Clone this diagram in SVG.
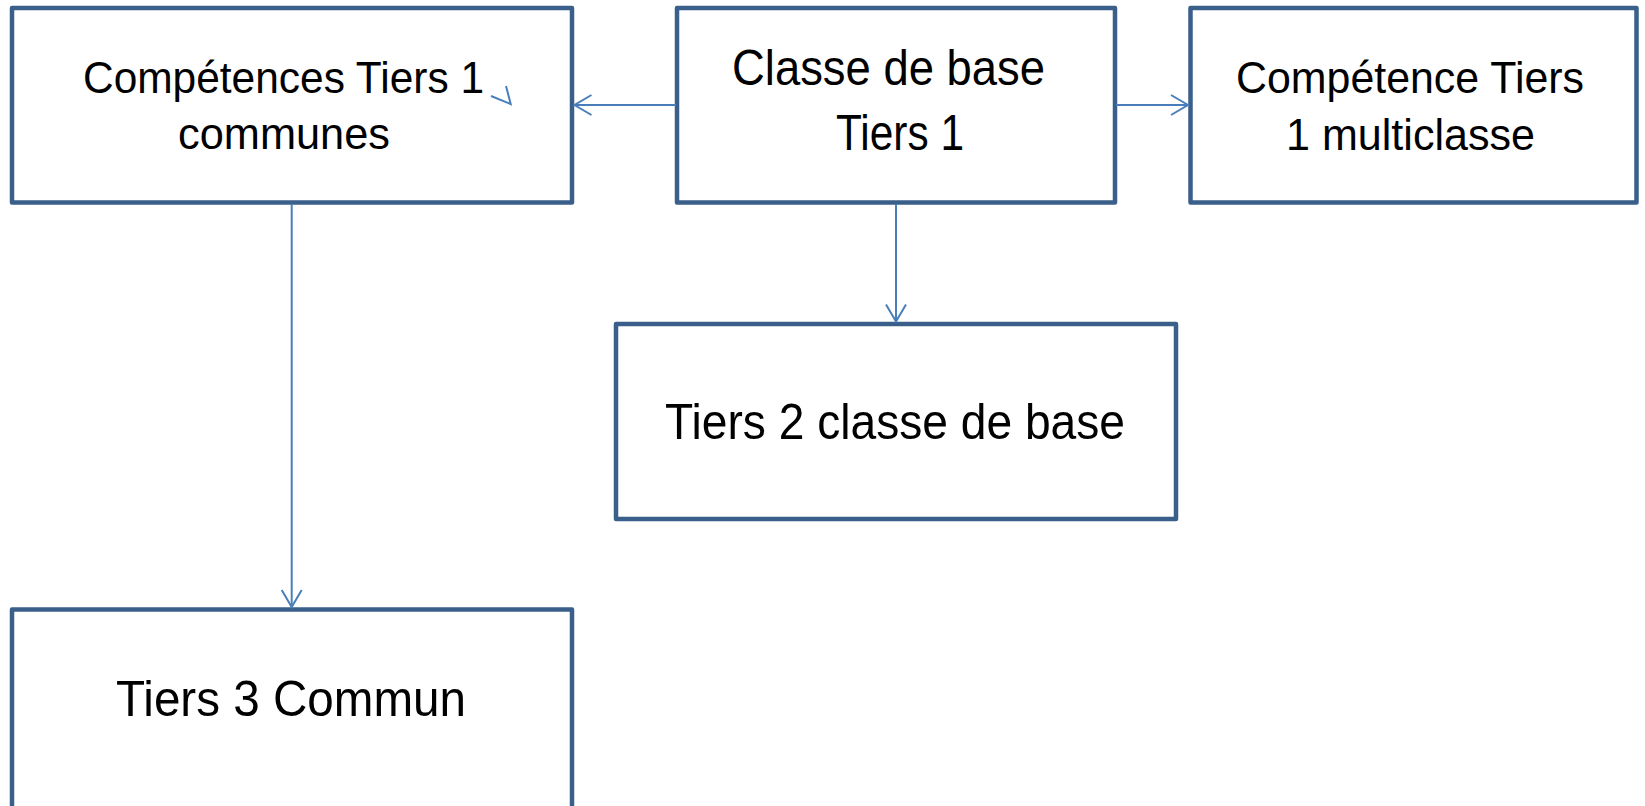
<svg xmlns="http://www.w3.org/2000/svg" width="1645" height="806" viewBox="0 0 1645 806">
<style>
  .box { fill: #ffffff; stroke: #3A5F8B; stroke-width: 4.5; stroke-linejoin: round; }
  .lbl { font-family: "Liberation Sans", Arial, sans-serif; fill: #000000; }
  .s1 { font-size: 44.5px; }
  .s2 { font-size: 50px; }
  .conn { fill: none; stroke: #4A7EBB; stroke-width: 2; }
</style>
<defs>
  <marker id="arr" markerUnits="userSpaceOnUse" markerWidth="24" markerHeight="24" viewBox="-20 -12 22 24" refX="0" refY="0" orient="auto">
    <path d="M -17 -10 L 0 0 L -17 10" fill="none" stroke="#4A7EBB" stroke-width="2"/>
  </marker>
</defs>
<rect width="1645" height="806" fill="#ffffff"/>

<g id="node-competences-communes">
  <rect class="box" x="12" y="8" width="560" height="194.5"/>
  <text class="lbl s1" x="83" y="92.5" textLength="401" lengthAdjust="spacingAndGlyphs">Compétences Tiers 1</text>
  <text class="lbl s1" x="178" y="148.5" textLength="212" lengthAdjust="spacingAndGlyphs">communes</text>
</g>

<g id="node-classe-base">
  <rect class="box" x="677" y="8" width="438" height="194.5"/>
  <text class="lbl s2" x="732" y="85" textLength="313" lengthAdjust="spacingAndGlyphs">Classe de base</text>
  <text class="lbl s2" x="836" y="150" textLength="128" lengthAdjust="spacingAndGlyphs">Tiers 1</text>
</g>

<g id="node-competence-multiclasse">
  <rect class="box" x="1190.5" y="8" width="446" height="194.5"/>
  <text class="lbl s1" x="1236" y="93" textLength="348" lengthAdjust="spacingAndGlyphs">Compétence Tiers</text>
  <text class="lbl s1" x="1286" y="149.5" textLength="249" lengthAdjust="spacingAndGlyphs">1 multiclasse</text>
</g>

<g id="node-tiers2">
  <rect class="box" x="616" y="324" width="560" height="195"/>
  <text class="lbl s2" x="665" y="438.5" textLength="460" lengthAdjust="spacingAndGlyphs">Tiers 2 classe de base</text>
</g>

<g id="node-tiers3">
  <rect class="box" x="12" y="609.5" width="560" height="220"/>
  <text class="lbl s2" x="116" y="715.5" textLength="350" lengthAdjust="spacingAndGlyphs">Tiers 3 Commun</text>
</g>

<g id="connectors">
  <line class="conn" x1="676" y1="105" x2="574.5" y2="105" marker-end="url(#arr)"/>
  <line class="conn" x1="1116" y1="105" x2="1188" y2="105" marker-end="url(#arr)"/>
  <line class="conn" x1="896" y1="204" x2="896" y2="321.5" marker-end="url(#arr)"/>
  <line class="conn" x1="291.7" y1="204" x2="291.7" y2="607" marker-end="url(#arr)"/>
  <polyline class="conn" points="491,96 510.7,104 506,86"/>
</g>
</svg>
